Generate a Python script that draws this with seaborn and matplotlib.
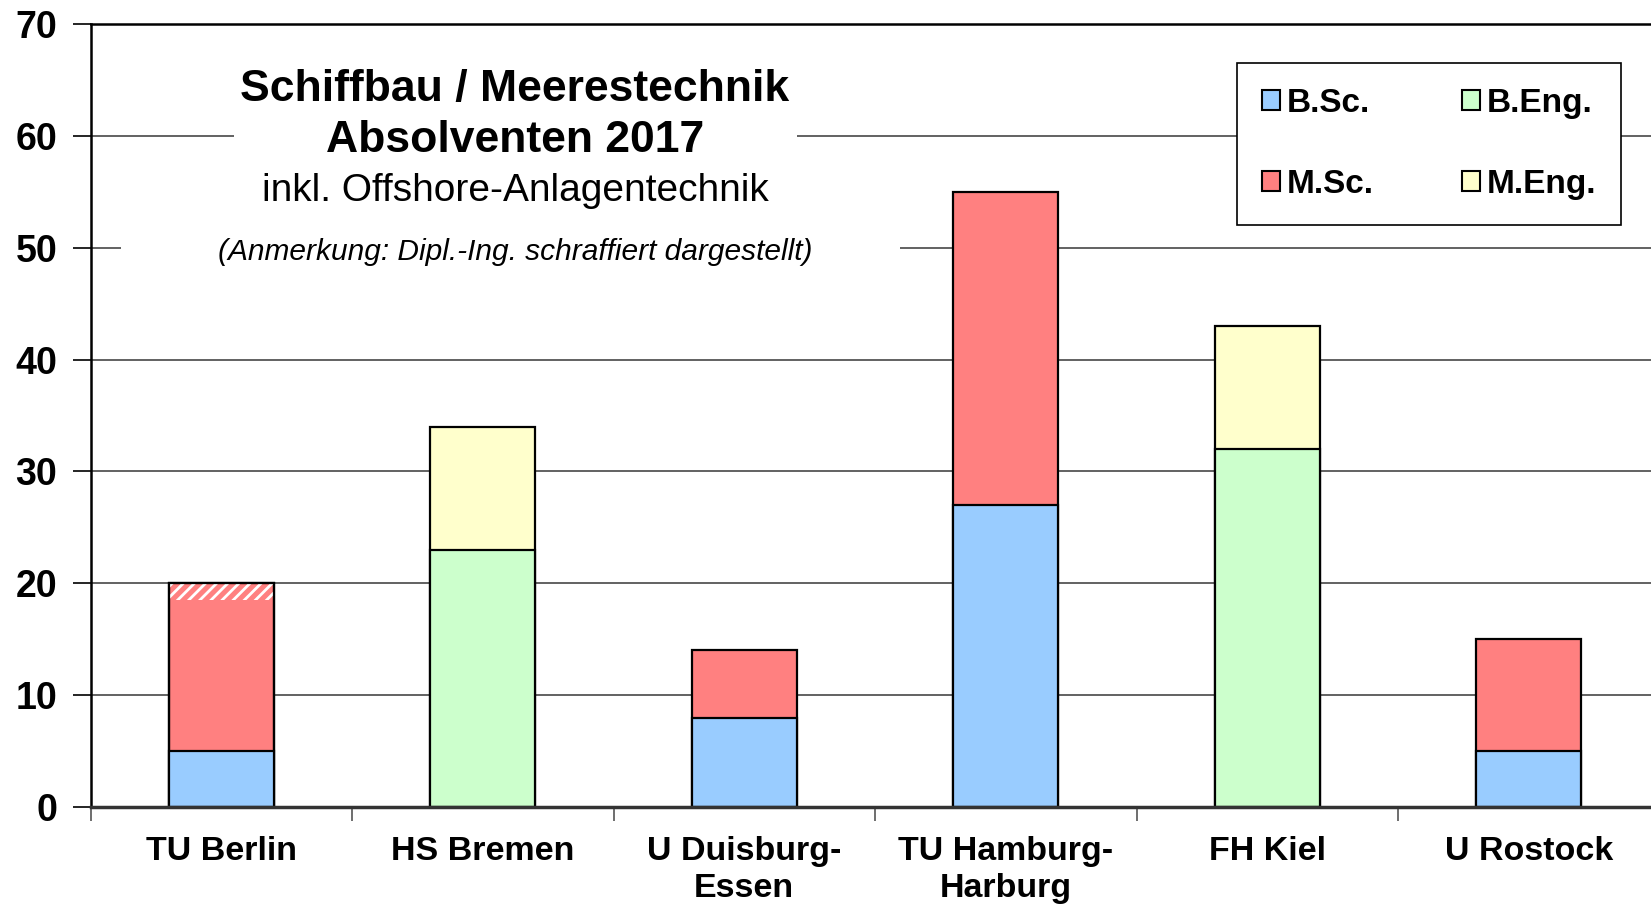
import numpy as np
import matplotlib
matplotlib.use("Agg")
import matplotlib.pyplot as plt
from matplotlib.patches import Patch, Rectangle
import seaborn as sns

# Daten (Absolventen 2017)
hochschulen = ['TU Berlin', 'HS Bremen', 'U Duisburg-\nEssen',
               'TU Hamburg-\nHarburg', 'FH Kiel', 'U Rostock']
bsc = [5, 0, 8, 27, 0, 5]
beng = [0, 23, 0, 0, 32, 0]
msc = [13.5, 0, 6, 28, 0, 10]
dipl = [1.5, 0, 0, 0, 0, 0]     # Dipl.-Ing. (schraffiert)
meng = [0, 11, 0, 0, 11, 0]
yticks = [0, 10, 20, 30, 40, 50, 60, 70]

C_BSC, C_BENG, C_MSC, C_MENG = '#99CCFF', '#CCFFCC', '#FF8080', '#FFFFCC'

W, H = 1651, 905
sns.set_style('white')
plt.rcParams['font.family'] = ['Liberation Sans', 'DejaVu Sans']
plt.rcParams['text.color'] = 'black'
plt.rcParams['xtick.color'] = 'black'
plt.rcParams['ytick.color'] = 'black'
plt.rcParams['hatch.linewidth'] = 2.0

fig = plt.figure(figsize=(W / 100, H / 100), dpi=100)
ax = fig.add_axes([90.5 / W, 98 / H, 1569 / W, 783 / H])

lower = np.array(bsc) + np.array(beng)
total = lower + np.array(msc) + np.array(dipl) + np.array(meng)
top_cols = [C_MSC if (m + d) > 0 else C_MENG for m, d in zip(msc, dipl)]
low_cols = [C_BSC if b > 0 else C_BENG for b in bsc]

# obere Segmente (Gesamt), dann untere darüber zeichnen
sns.barplot(x=hochschulen, y=total, hue=hochschulen, palette=top_cols,
            saturation=1, width=0.4, edgecolor='black', linewidth=1.6,
            errorbar=None, legend=False, ax=ax, zorder=2)

# Dipl.-Ing. schraffiert
pos = np.arange(len(hochschulen))
has_d = np.array(dipl) > 0
ax.bar(pos[has_d], np.array(dipl)[has_d], bottom=(total - np.array(dipl))[has_d],
       width=0.4, facecolor='none', edgecolor='white', linewidth=0,
       hatch='///', zorder=2.1)
ax.bar(pos[has_d], total[has_d], width=0.4, fill=False, edgecolor='black',
       linewidth=1.6, zorder=2.2)

sns.barplot(x=hochschulen, y=lower, hue=hochschulen, palette=low_cols,
            saturation=1, width=0.4, edgecolor='black', linewidth=1.6,
            errorbar=None, legend=False, ax=ax, zorder=2.3)

ax.set_xlim(-0.5, len(hochschulen) - 0.5)
ax.set_ylim(0, 70)
ax.set_yticks(yticks)
ax.set_xlabel('')
ax.set_ylabel('')

ax.yaxis.grid(True, color='#555555', linewidth=1.3)
ax.xaxis.grid(False)
ax.set_axisbelow(True)

for s in ['left', 'top']:
    ax.spines[s].set_color('black')
    ax.spines[s].set_linewidth(1.8)
ax.spines['bottom'].set_color('#333333')
ax.spines['bottom'].set_linewidth(2.5)
ax.spines['right'].set_visible(False)

ax.tick_params(axis='y', which='major', direction='out', length=13, width=1.2,
               color='black', pad=11, labelsize=27, left=True)
ax.tick_params(axis='x', which='major', length=0, pad=21, labelsize=24.5)
ax.set_xticks(np.arange(-0.5, len(hochschulen), 1.0), minor=True)
ax.tick_params(axis='x', which='minor', direction='out', length=10, width=1.2,
               color='#555555', bottom=True)
for lab in ax.get_xticklabels() + ax.get_yticklabels():
    lab.set_fontweight('bold')
for lab in ax.get_xticklabels():
    lab.set_linespacing(1.25)

# weiße Flächen hinter dem Titel
def white_box(x0, y0, x1, y1):
    ax.add_patch(Rectangle((x0 / W, 1 - y1 / H), (x1 - x0) / W, (y1 - y0) / H,
                           transform=fig.transFigure, facecolor='white',
                           edgecolor='none', zorder=0.8))

white_box(234, 60, 797, 215)
white_box(121, 225, 900, 275)

cx = 515 / W
fig.text(cx, 1 - 89 / H, 'Schiffbau / Meerestechnik', ha='center', va='center',
         fontsize=32, fontweight='bold')
fig.text(cx, 1 - 140 / H, 'Absolventen 2017', ha='center', va='center',
         fontsize=32, fontweight='bold')
fig.text(cx, 1 - 191 / H, 'inkl. Offshore-Anlagentechnik', ha='center', va='center',
         fontsize=28)
fig.text(cx, 1 - 252 / H, '(Anmerkung: Dipl.-Ing. schraffiert dargestellt)',
         ha='center', va='center', fontsize=21.5, style='italic')

handles = [Patch(facecolor=C_BSC, edgecolor='black', linewidth=1.5, label='B.Sc.'),
           Patch(facecolor=C_MSC, edgecolor='black', linewidth=1.5, label='M.Sc.'),
           Patch(facecolor=C_BENG, edgecolor='black', linewidth=1.5, label='B.Eng.'),
           Patch(facecolor=C_MENG, edgecolor='black', linewidth=1.5, label='M.Eng.')]
leg = fig.legend(handles=handles, ncol=2, loc='upper left',
                 bbox_to_anchor=(1237 / W, 1 - 218 / H, 384 / W, 155 / H),
                 borderaxespad=0, mode='expand',
                 prop={'weight': 'bold', 'size': 24},
                 handlelength=0.55, handleheight=0.55, handletextpad=0.2,
                 labelspacing=1.5, borderpad=0.75, columnspacing=1.0,
                 fancybox=False, framealpha=1, edgecolor='black')
leg.get_frame().set_linewidth(1.2)

fig.savefig('out.png', dpi=100)
